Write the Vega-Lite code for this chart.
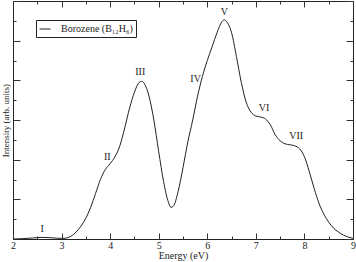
{
  "$schema": "https://vega.github.io/schema/vega-lite/v6.json",
  "width": 340,
  "height": 238,
  "autosize": {"type": "none"},
  "padding": {"left": 13, "top": 1, "right": 3, "bottom": 23},
  "background": "white",
  "config": {
    "font": "Liberation Serif",
    "view": {"stroke": "#222", "strokeWidth": 1},
    "axis": {"grid": false, "domain": false, "tickColor": "#333", "labelColor": "#222", "titleColor": "#222", "titleFontWeight": "normal"}
  },
  "datasets": {
    "curve": [
      {"energy": 2.0, "intensity": 0.0},
      {"energy": 2.2, "intensity": 0.02},
      {"energy": 2.4, "intensity": 0.05},
      {"energy": 2.6, "intensity": 0.08},
      {"energy": 2.8, "intensity": 0.06},
      {"energy": 3.0, "intensity": 0.03},
      {"energy": 3.1, "intensity": 0.05},
      {"energy": 3.2, "intensity": 0.15},
      {"energy": 3.3, "intensity": 0.35},
      {"energy": 3.4, "intensity": 0.65},
      {"energy": 3.5, "intensity": 1.05},
      {"energy": 3.6, "intensity": 1.6},
      {"energy": 3.7, "intensity": 2.3},
      {"energy": 3.8, "intensity": 3.0},
      {"energy": 3.9, "intensity": 3.5},
      {"energy": 4.0, "intensity": 3.8},
      {"energy": 4.1, "intensity": 4.15},
      {"energy": 4.2, "intensity": 4.7},
      {"energy": 4.3, "intensity": 5.6},
      {"energy": 4.4, "intensity": 6.6},
      {"energy": 4.5, "intensity": 7.4},
      {"energy": 4.6, "intensity": 7.9},
      {"energy": 4.65, "intensity": 7.95},
      {"energy": 4.7, "intensity": 7.85},
      {"energy": 4.8, "intensity": 7.2},
      {"energy": 4.9, "intensity": 6.0},
      {"energy": 5.0, "intensity": 4.4},
      {"energy": 5.1, "intensity": 2.9},
      {"energy": 5.2, "intensity": 1.85},
      {"energy": 5.25, "intensity": 1.6},
      {"energy": 5.3, "intensity": 1.65},
      {"energy": 5.4, "intensity": 2.4},
      {"energy": 5.5, "intensity": 3.6},
      {"energy": 5.6, "intensity": 4.9},
      {"energy": 5.7, "intensity": 6.0},
      {"energy": 5.8, "intensity": 7.2},
      {"energy": 5.9, "intensity": 8.2},
      {"energy": 6.0, "intensity": 9.0},
      {"energy": 6.1, "intensity": 9.7},
      {"energy": 6.2, "intensity": 10.4},
      {"energy": 6.3, "intensity": 10.95},
      {"energy": 6.35, "intensity": 11.05},
      {"energy": 6.4, "intensity": 10.95},
      {"energy": 6.5, "intensity": 10.4},
      {"energy": 6.6, "intensity": 9.2},
      {"energy": 6.7, "intensity": 7.9},
      {"energy": 6.8, "intensity": 6.9},
      {"energy": 6.9, "intensity": 6.4},
      {"energy": 7.0, "intensity": 6.2},
      {"energy": 7.1, "intensity": 6.15},
      {"energy": 7.2, "intensity": 6.05},
      {"energy": 7.3, "intensity": 5.75},
      {"energy": 7.4, "intensity": 5.25},
      {"energy": 7.5, "intensity": 4.95},
      {"energy": 7.6, "intensity": 4.8},
      {"energy": 7.7, "intensity": 4.75},
      {"energy": 7.8, "intensity": 4.7},
      {"energy": 7.9, "intensity": 4.55},
      {"energy": 8.0, "intensity": 4.15},
      {"energy": 8.1, "intensity": 3.4},
      {"energy": 8.2, "intensity": 2.55},
      {"energy": 8.3, "intensity": 1.8},
      {"energy": 8.4, "intensity": 1.25},
      {"energy": 8.5, "intensity": 0.85},
      {"energy": 8.6, "intensity": 0.55},
      {"energy": 8.7, "intensity": 0.35},
      {"energy": 8.8, "intensity": 0.2},
      {"energy": 8.9, "intensity": 0.1},
      {"energy": 9.0, "intensity": 0.03}
    ],
    "labels": [
      {"energy": 2.6, "intensity": 0.5, "label": "I"},
      {"energy": 3.94, "intensity": 4.15, "label": "II"},
      {"energy": 4.62, "intensity": 8.4, "label": "III"},
      {"energy": 5.76, "intensity": 8.05, "label": "IV"},
      {"energy": 6.35, "intensity": 11.45, "label": "V"},
      {"energy": 7.17, "intensity": 6.6, "label": "VI"},
      {"energy": 7.83, "intensity": 5.2, "label": "VII"}
    ]
  },
  "layer": [
    {
      "data": {"name": "curve"},
      "mark": {"type": "line", "interpolate": "monotone", "strokeWidth": 1},
      "encoding": {
        "x": {
          "field": "energy", "type": "quantitative",
          "scale": {"domain": [2, 9], "nice": false, "zero": false},
          "axis": {
            "orient": "bottom",
            "title": "Energy (eV)",
            "titleFontSize": 10,
            "titlePadding": 0,
            "values": [2, 2.5, 3, 3.5, 4, 4.5, 5, 5.5, 6, 6.5, 7, 7.5, 8, 8.5, 9],
            "tickSize": {"condition": {"test": "datum.value % 1 === 0", "value": -6}, "value": -3},
            "labelExpr": "datum.value % 1 === 0 ? format(datum.value, 'd') : ''",
            "labelFontSize": 10,
            "labelPadding": 7,
            "labelFlush": false
          }
        },
        "y": {
          "field": "intensity", "type": "quantitative",
          "scale": {"domain": [0, 12], "nice": false},
          "axis": {
            "orient": "left",
            "title": "Intensity (arb. units)",
            "titleFontSize": 9,
            "titlePadding": 2,
            "values": [0, 1, 2, 3, 4, 5, 6, 7, 8, 9, 10, 11, 12],
            "tickSize": {"condition": {"test": "datum.value % 2 === 0", "value": -7}, "value": -3},
            "labels": false
          }
        },
        "color": {
          "datum": "Borozene (B₁₂H₆)",
          "type": "nominal",
          "scale": {"range": ["#222"]},
          "legend": {
            "orient": "none",
            "legendX": 23,
            "legendY": 19,
            "title": null,
            "strokeColor": "#222",
            "fillColor": "white",
            "padding": 3,
            "symbolType": "stroke",
            "symbolSize": 120,
            "symbolStrokeWidth": 1,
            "labelFontSize": 10,
            "labelOffset": 10,
            "labelColor": "#222"
          }
        }
      }
    },
    {
      "data": {"name": "labels"},
      "mark": {"type": "text", "fontSize": 10, "baseline": "middle", "align": "center", "color": "#222"},
      "encoding": {
        "x": {
          "field": "energy", "type": "quantitative",
          "axis": {
            "orient": "top",
            "title": null,
            "labels": false,
            "values": [2, 2.5, 3, 3.5, 4, 4.5, 5, 5.5, 6, 6.5, 7, 7.5, 8, 8.5, 9],
            "tickSize": {"condition": {"test": "datum.value % 1 === 0", "value": -6}, "value": -3}
          }
        },
        "y": {
          "field": "intensity", "type": "quantitative",
          "axis": {
            "orient": "right",
            "title": null,
            "labels": false,
            "values": [0, 1, 2, 3, 4, 5, 6, 7, 8, 9, 10, 11, 12],
            "tickSize": {"condition": {"test": "datum.value % 2 === 0", "value": -7}, "value": -3}
          }
        },
        "text": {"field": "label"}
      }
    }
  ],
  "resolve": {"axis": {"x": "independent", "y": "independent"}}
}
